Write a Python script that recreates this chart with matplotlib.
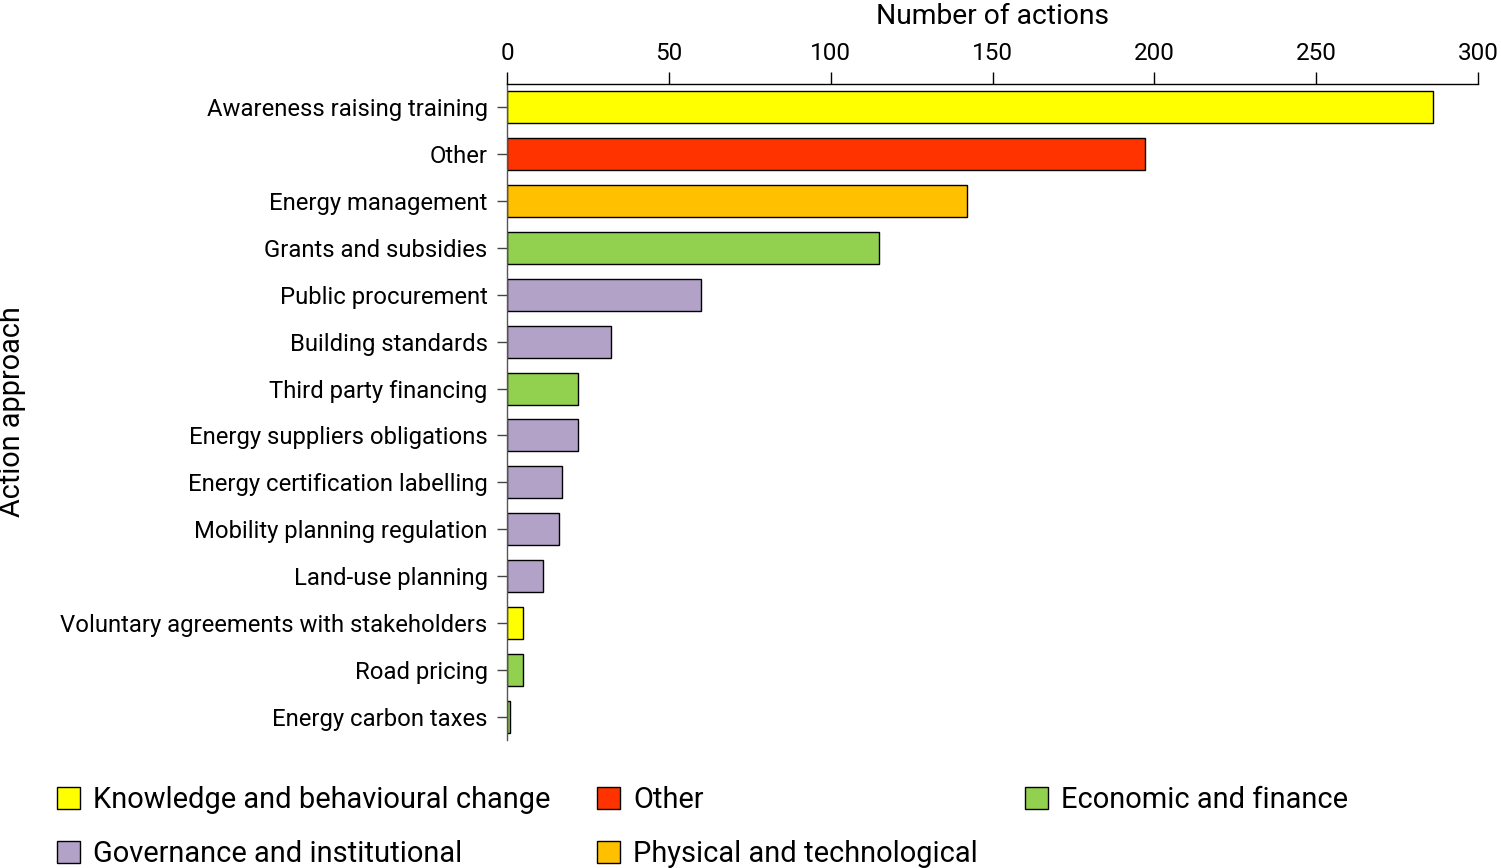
import matplotlib
matplotlib.use("Agg")
import matplotlib.pyplot as plt
from matplotlib.patches import Patch

plt.rcParams['font.family'] = ['Roboto', 'DejaVu Sans']

categories = ["Awareness raising training", "Other", "Energy management",
              "Grants and subsidies", "Public procurement", "Building standards",
              "Third party financing", "Energy suppliers obligations",
              "Energy certification labelling", "Mobility planning regulation",
              "Land-use planning", "Voluntary agreements with stakeholders",
              "Road pricing", "Energy carbon taxes"]
values = [286, 197, 142, 115, 60, 32, 22, 22, 17, 16, 11, 5, 5, 1]
groups = ["Knowledge and behavioural change", "Other", "Physical and technological",
          "Economic and finance", "Governance and institutional",
          "Governance and institutional", "Economic and finance",
          "Governance and institutional", "Governance and institutional",
          "Governance and institutional", "Governance and institutional",
          "Knowledge and behavioural change", "Economic and finance",
          "Economic and finance"]
group_colors = {
    "Knowledge and behavioural change": "#FFFF00",
    "Other": "#FF3300",
    "Economic and finance": "#92D050",
    "Governance and institutional": "#B3A2C7",
    "Physical and technological": "#FFC000",
}
legend_order = ["Knowledge and behavioural change", "Governance and institutional",
                "Other", "Physical and technological", "Economic and finance"]

fig = plt.figure(figsize=(15.01, 8.68), dpi=100)
ax = fig.add_axes([507/1501, 1-740/868, (1478-507)/1501, (740-84)/868])

ypos = list(range(len(categories)))
ax.barh(ypos, values, height=0.68, color=[group_colors[g] for g in groups],
        edgecolor="black", linewidth=1.0)
ax.set_ylim(len(categories)-0.5, -0.5)
ax.set_xlim(0, 300)
ax.set_yticks(ypos)
ax.set_yticklabels(categories, fontsize=17.2)
ax.set_xticks([0, 50, 100, 150, 200, 250, 300])
ax.xaxis.tick_top()
ax.xaxis.set_label_position("top")
ax.tick_params(axis='x', labelsize=17.5, length=9, width=1, pad=5, colors="black")
ax.tick_params(axis='y', length=7, width=1, pad=7, color="#444444")
ax.set_xlabel("Number of actions", fontsize=20.3, labelpad=13)
for s in ["right", "bottom"]:
    ax.spines[s].set_visible(False)
ax.spines["top"].set_linewidth(1)
ax.spines["left"].set_color("#555555")
ax.spines["left"].set_linewidth(1)

fig.text(12/1501, 1-412/868, "Action approach", rotation=90, fontsize=20.8,
         ha="center", va="center")

handles = [Patch(facecolor=group_colors[g], edgecolor="black", linewidth=1.0, label=g)
           for g in legend_order]
fig.legend(handles=handles, ncol=3, loc="lower left", bbox_to_anchor=(57/1501, 0.0),
           frameon=False, fontsize=20.9, handlelength=0.8, handleheight=0.8,
           handletextpad=0.45, columnspacing=1.6, labelspacing=0.88, borderaxespad=0.0,
           borderpad=0.0)

fig.savefig("out.png", dpi=100)
